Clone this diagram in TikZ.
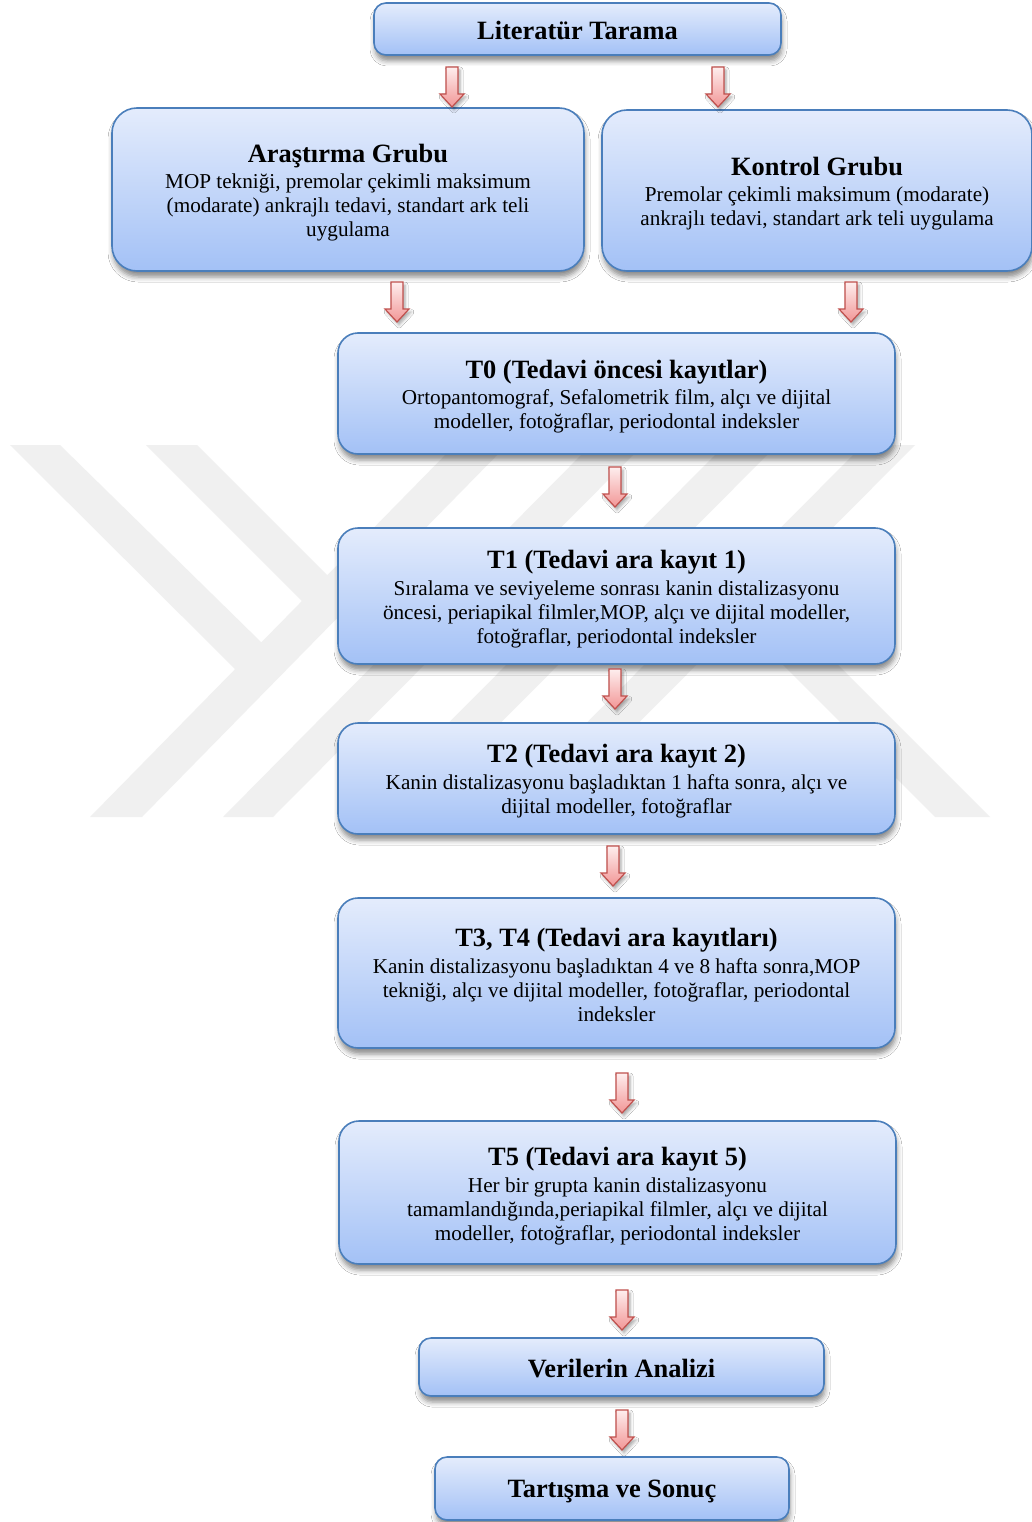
\documentclass[tikz,border=0pt]{standalone}
\usepackage{fontspec}
\setmainfont{Liberation Serif}
\usetikzlibrary{shadows.blur}
\definecolor{boxtop}{RGB}{228,236,252}
\definecolor{boxbot}{RGB}{163,193,246}
\definecolor{boxline}{RGB}{74,126,187}
\definecolor{arrtop}{RGB}{254,238,238}
\definecolor{arrbot}{RGB}{242,150,150}
\definecolor{arrline}{RGB}{192,80,77}
\definecolor{wmark}{RGB}{240,240,240}
\newcommand\ttlf{\fontsize{26.4}{28}\selectfont\bfseries\spaceskip=0pt\xspaceskip=0pt\relax}
\newcommand\bdyf{\fontsize{21.2}{24}\selectfont\mdseries\spaceskip=0pt\xspaceskip=0pt\relax}
\begin{document}
\begin{tikzpicture}[x=1pt,y=1pt,
  box/.style={draw=boxline, line width=1.6pt, top color=boxtop, bottom color=boxbot,
    inner sep=0pt,
    blur shadow={shadow xshift=1pt, shadow yshift=-6pt, shadow blur radius=5pt, shadow opacity=45}},
  txt/.style={align=flush center, inner sep=0pt, text width=540pt},
  arrbody/.style={draw=arrline, line width=1.2pt, top color=arrtop, bottom color=arrbot,
    line join=miter,
    blur shadow={shadow xshift=2pt, shadow yshift=-3pt, shadow blur radius=3pt, shadow opacity=35}},
  wm/.style={fill=wmark, draw=none},
  downarr/.pic={\path[arrbody] (-6,0) -- (6,0) -- (6,-27) -- (12,-27) -- (0,-40) -- (-12,-27) -- (-6,-27) -- cycle;}
]
\useasboundingbox (0,0) rectangle (1032,-1522);
\fill[white] (0,0) rectangle (1032,-1522);

% watermark
\path[wm] (10,-445) -- (60,-445) -- (262,-643) -- (238,-672) -- cycle;
\path[wm] (146,-445) -- (197,-445) -- (355,-603) -- (304,-603) -- cycle;
\path[wm] (455,-445) -- (507,-445) -- (142,-817) -- (90,-817) -- cycle;
\path[wm] (591,-445) -- (643,-445) -- (273,-817) -- (223,-817) -- cycle;
\path[wm] (725,-445) -- (777,-445) -- (407,-817) -- (355,-817) -- cycle;
\path[wm] (863,-445) -- (915,-445) -- (545,-817) -- (493,-817) -- cycle;
\path[wm] (739,-621) -- (766,-593) -- (990,-817) -- (935,-817) -- cycle;

% boxes
\node[box, rounded corners=12pt, minimum width=407pt, minimum height=52pt] (lit) at (577.5,-29) {};
\node[box, rounded corners=25pt, minimum width=472pt, minimum height=163pt] (ara) at (348,-189.5) {};
\node[box, rounded corners=25pt, minimum width=430pt, minimum height=161pt] (kon) at (817,-190.5) {};
\node[box, rounded corners=20pt, minimum width=557pt, minimum height=121pt] (t0) at (616.5,-393.5) {};
\node[box, rounded corners=20pt, minimum width=557pt, minimum height=136pt] (t1) at (616.5,-596) {};
\node[box, rounded corners=20pt, minimum width=557pt, minimum height=111pt] (t2) at (616.5,-778.5) {};
\node[box, rounded corners=20pt, minimum width=557pt, minimum height=150pt] (t34) at (616.5,-973) {};
\node[box, rounded corners=20pt, minimum width=557pt, minimum height=143pt] (t5) at (617.5,-1192.5) {};
\node[box, rounded corners=12pt, minimum width=405pt, minimum height=58pt] (ver) at (621.5,-1367) {};
\node[box, rounded corners=12pt, minimum width=354pt, minimum height=63pt] (tar) at (612,-1488.5) {};

% texts
\node[txt] (litx) at ([yshift=-1.5pt]lit.center) {\ttlf Literatür Tarama\par};
\node[txt, text width=460pt] (arax) at ([yshift=-3.5pt]ara.center)
 {\ttlf Araştırma Grubu\par\vspace{2pt}\bdyf MOP tekniği, premolar çekimli maksimum\\(modarate) ankrajlı tedavi, standart ark teli\\uygulama\par};
\node[txt, text width=420pt] (konx) at ([yshift=-3.5pt]kon.center)
 {\ttlf Kontrol Grubu\par\vspace{2pt}\bdyf Premolar çekimli maksimum (modarate)\\ankrajlı tedavi, standart ark teli uygulama\par};
\node[txt] (t0x) at ([yshift=-3.5pt]t0.center)
 {\ttlf T0 (Tedavi öncesi kayıtlar)\par\vspace{2pt}\bdyf Ortopantomograf, Sefalometrik film, alçı ve dijital\\modeller, fotoğraflar, periodontal indeksler\par};
\node[txt] (t1x) at ([yshift=-3pt]t1.center)
 {\ttlf T1 (Tedavi ara kayıt 1)\par\vspace{3pt}\bdyf Sıralama ve seviyeleme sonrası kanin distalizasyonu\\öncesi, periapikal filmler,MOP, alçı ve dijital modeller,\\fotoğraflar, periodontal indeksler\par};
\node[txt] (t2x) at ([yshift=-3pt]t2.center)
 {\ttlf T2 (Tedavi ara kayıt 2)\par\vspace{3pt}\bdyf Kanin distalizasyonu başladıktan 1 hafta sonra, alçı ve\\dijital modeller, fotoğraflar\par};
\node[txt] (t34x) at ([yshift=-2pt]t34.center)
 {\ttlf T3, T4 (Tedavi ara kayıtları)\par\vspace{3pt}\bdyf Kanin distalizasyonu başladıktan 4 ve 8 hafta sonra,MOP\\tekniği, alçı ve dijital modeller, fotoğraflar, periodontal\\indeksler\par};
\node[txt] (t5x) at ([yshift=-4pt]t5.center)
 {\ttlf T5 (Tedavi ara kayıt 5)\par\vspace{3pt}\bdyf Her bir grupta kanin distalizasyonu\\tamamlandığında,periapikal filmler, alçı ve dijital\\modeller, fotoğraflar, periodontal indeksler\par};
\node[txt] (verx) at ([yshift=-2pt]ver.center) {\ttlf Verilerin Analizi\par};
\node[txt] (tarx) at ([yshift=-3pt]tar.center) {\ttlf Tartışma ve Sonuç\par};

% block arrows between boxes
\pic (a1) at (452,-67) {downarr};
\pic (a2) at (718,-67) {downarr};
\pic (a3) at (397,-282) {downarr};
\pic (a4) at (851,-282) {downarr};
\pic (a5) at (615,-467) {downarr};
\pic (a6) at (615,-669) {downarr};
\pic (a7) at (613,-846) {downarr};
\pic (a8) at (622,-1073) {downarr};
\pic (a9) at (622,-1290) {downarr};
\pic (a10) at (622,-1410) {downarr};
\end{tikzpicture}
\end{document}
